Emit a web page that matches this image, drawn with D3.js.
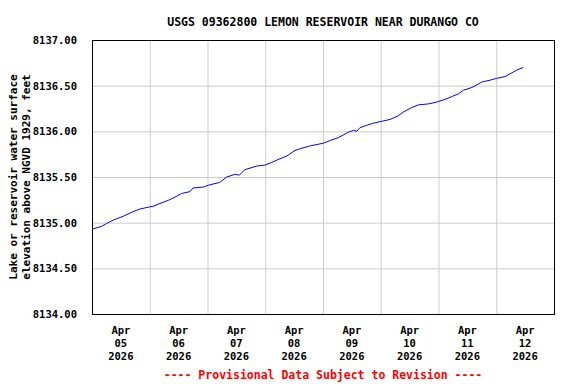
<!DOCTYPE html>
<html>
<head>
<meta charset="utf-8">
<script src="https://cdn.jsdelivr.net/npm/d3@7"></script>
<style>
  body { margin: 0; background: #fff; }
  text { font-family: "DejaVu Sans Mono", "Liberation Mono", monospace; font-weight: bold; }
</style>
</head>
<body>
<svg id="svg"></svg>
<script>
////////////////////////////////////////////////////////////////////////
// Data (15-min record, thinned)

let titleText = "USGS 09362800 LEMON RESERVOIR NEAR DURANGO CO";
let yTitleLines = ["Lake or reservoir water surface", "elevation above NGVD 1929, feet"];
let footText = "---- Provisional Data Subject to Revision ----";

let times = [
  "2026-04-05 00:15", "2026-04-05 04:00", "2026-04-05 06:00", "2026-04-05 09:00",
  "2026-04-05 13:00", "2026-04-05 17:00", "2026-04-05 20:00", "2026-04-05 23:30",
  "2026-04-06 01:30", "2026-04-06 04:15", "2026-04-06 07:45", "2026-04-06 10:30",
  "2026-04-06 13:15", "2026-04-06 16:45", "2026-04-06 18:00", "2026-04-06 22:15",
  "2026-04-07 00:20", "2026-04-07 05:00", "2026-04-07 08:00", "2026-04-07 11:30",
  "2026-04-07 13:15", "2026-04-07 15:30", "2026-04-07 20:30", "2026-04-07 23:50",
  "2026-04-08 02:40", "2026-04-08 06:10", "2026-04-08 09:00", "2026-04-08 12:20",
  "2026-04-08 14:30", "2026-04-08 18:30", "2026-04-09 00:10", "2026-04-09 03:00",
  "2026-04-09 06:20", "2026-04-09 10:30", "2026-04-09 12:40", "2026-04-09 14:00",
  "2026-04-09 15:20", "2026-04-09 17:30", "2026-04-09 21:00", "2026-04-10 00:25",
  "2026-04-10 03:50", "2026-04-10 07:15", "2026-04-10 09:20", "2026-04-10 12:50",
  "2026-04-10 15:40", "2026-04-10 19:45", "2026-04-10 23:15", "2026-04-11 02:45",
  "2026-04-11 05:30", "2026-04-11 08:15", "2026-04-11 10:20", "2026-04-11 13:50",
  "2026-04-11 16:00", "2026-04-11 18:00", "2026-04-11 21:25", "2026-04-12 00:10",
  "2026-04-12 03:40", "2026-04-12 05:45", "2026-04-12 08:30", "2026-04-12 11:15"
];

let elevations = [
  8134.93, 8134.96, 8134.99, 8135.03, 8135.07, 8135.12, 8135.15, 8135.17,
  8135.18, 8135.21, 8135.245, 8135.28, 8135.32, 8135.34, 8135.38, 8135.39,
  8135.41, 8135.44, 8135.50, 8135.53, 8135.52, 8135.58, 8135.62, 8135.63,
  8135.66, 8135.70, 8135.73, 8135.79, 8135.81, 8135.84, 8135.87, 8135.90,
  8135.93, 8135.99, 8136.01, 8136.00, 8136.04, 8136.06, 8136.09, 8136.11,
  8136.13, 8136.17, 8136.21, 8136.26, 8136.29, 8136.30, 8136.32, 8136.35,
  8136.38, 8136.41, 8136.45, 8136.48, 8136.51, 8136.54, 8136.56, 8136.58,
  8136.60, 8136.63, 8136.67, 8136.70
];

// day boundaries (gridlines) and the days that get a label
let dayEdges = ["2026-04-05", "2026-04-06", "2026-04-07", "2026-04-08", "2026-04-09",
                "2026-04-10", "2026-04-11", "2026-04-12", "2026-04-13"];
let dayLabels = ["2026-04-05", "2026-04-06", "2026-04-07", "2026-04-08",
                 "2026-04-09", "2026-04-10", "2026-04-11", "2026-04-12"];

let yTicks = [8134.0, 8134.5, 8135.0, 8135.5, 8136.0, 8136.5, 8137.0];


////////////////////////////////////////////////////////////////////////
// Layout + scales

let winWidth = 576;
let winHeight = 384;
let plot = { x1: 92, x2: 554, y1: 40, y2: 314 };

let parseTime = d3.timeParse("%Y-%m-%d %H:%M");
let parseDay = d3.timeParse("%Y-%m-%d");

let xScale = d3.scaleTime()
               .domain([parseDay(dayEdges[0]), parseDay(dayEdges[dayEdges.length-1])])
               .range([plot.x1, plot.x2]);

let yScale = d3.scaleLinear()
               .domain([8134, 8137])
               .range([plot.y2, plot.y1]);

let series = [];
for (let i=0; i<times.length; ++i) {
  series.push({ t: parseTime(times[i]), v: elevations[i] });
}

let svg = d3.select("#svg")
            .attr("width", winWidth)
            .attr("height", winHeight);


////////////////////////////////////////////////////////////////////////
// Grid

// vertical gridlines at midnight, inner ones only
svg.append("g")
   .attr("transform", "translate(0," + plot.y2 + ")")
   .call(d3.axisBottom(xScale)
           .tickValues(dayEdges.slice(1, -1).map(parseDay))
           .tickSize(-(plot.y2 - plot.y1))
           .tickFormat(""))
   .call(function(g) {
     g.select(".domain").remove();
     g.selectAll("line").attr("stroke", "#cccccc");
   });

// horizontal gridlines + labels
svg.append("g")
   .attr("transform", "translate(" + plot.x1 + ",0)")
   .call(d3.axisLeft(yScale)
           .tickValues(yTicks)
           .tickSize(-(plot.x2 - plot.x1))
           .tickPadding(15)
           .tickFormat(d3.format(".2f")))
   .call(function(g) {
     g.select(".domain").remove();
     g.selectAll("line").attr("stroke", "#cccccc");
     g.selectAll("text")
      .attr("fill", "#000")
      .style("font-size", "10.5px")
      .style("font-family", "'DejaVu Sans Mono', monospace")
      .style("font-weight", "bold");
   });


////////////////////////////////////////////////////////////////////////
// The series

let line = d3.line()
             .x(function(d) { return xScale(d.t); })
             .y(function(d) { return yScale(d.v); });

svg.append("path")
   .datum(series)
   .attr("d", line)
   .attr("fill", "none")
   .attr("stroke", "#0000ff")
   .attr("stroke-width", 1);

// plot frame
svg.append("rect")
   .attr("x", plot.x1 + 0.5)
   .attr("y", plot.y1 + 0.5)
   .attr("width", plot.x2 - plot.x1)
   .attr("height", plot.y2 - plot.y1)
   .attr("fill", "none")
   .attr("stroke", "#000")
   .attr("stroke-width", 1);


////////////////////////////////////////////////////////////////////////
// Text

// x labels sit at noon of each day, three lines each
let fmtMon = d3.timeFormat("%b");
let fmtDay = d3.timeFormat("%d");
let fmtYear = d3.timeFormat("%Y");

let xl = svg.append("g")
            .selectAll("text")
            .data(dayLabels.map(parseDay))
            .enter()
            .append("text")
            .attr("x", function(d) { return xScale(d3.timeHour.offset(d, 12)); })
            .attr("text-anchor", "middle")
            .style("font-size", "10.5px");
xl.append("tspan").attr("x", function(d) { return xScale(d3.timeHour.offset(d, 12)); })
  .attr("y", 334).text(fmtMon);
xl.append("tspan").attr("x", function(d) { return xScale(d3.timeHour.offset(d, 12)); })
  .attr("y", 347).text(fmtDay);
xl.append("tspan").attr("x", function(d) { return xScale(d3.timeHour.offset(d, 12)); })
  .attr("y", 359.5).text(fmtYear);

svg.append("text")
   .attr("x", (plot.x1 + plot.x2) / 2)
   .attr("y", 26)
   .attr("text-anchor", "middle")
   .style("font-size", "11.5px")
   .text(titleText);

let yMid = (plot.y1 + plot.y2) / 2;
for (let i=0; i<yTitleLines.length; ++i) {
  let cx = 17 + i * 12.5;
  svg.append("text")
     .attr("transform", "translate(" + cx + "," + yMid + ") rotate(-90)")
     .attr("text-anchor", "middle")
     .style("font-size", "11px")
     .text(yTitleLines[i]);
}

svg.append("text")
   .attr("x", (plot.x1 + plot.x2) / 2)
   .attr("y", 379)
   .attr("text-anchor", "middle")
   .attr("fill", "#ff0000")
   .style("font-size", "11.5px")
   .text(footText);
</script>
</body>
</html>
